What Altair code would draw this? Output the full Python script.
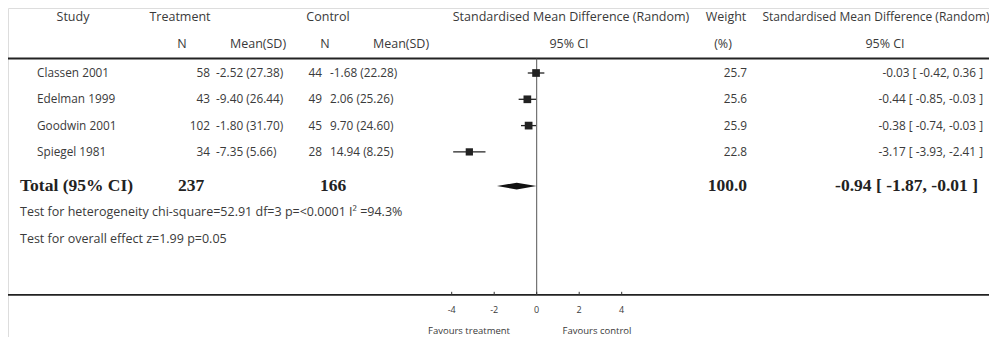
import altair as alt
import pandas as pd

# ---------------- data ----------------
studies = ["Classen 2001", "Edelman 1999", "Goodwin 2001", "Spiegel 1981"]
treat_n = [58, 43, 102, 34]
treat_mean_sd = ["-2.52 (27.38)", "-9.40 (26.44)", "-1.80 (31.70)", "-7.35 (5.66)"]
ctrl_n = [44, 49, 45, 28]
ctrl_mean_sd = ["-1.68 (22.28)", "2.06 (25.26)", "9.70 (24.60)", "14.94 (8.25)"]
weights = [25.7, 25.6, 25.9, 22.8]
smd = [-0.03, -0.44, -0.38, -3.17]
ci_low = [-0.42, -0.85, -0.74, -3.93]
ci_high = [0.36, -0.03, -0.03, -2.41]

total_treat_n = 237
total_ctrl_n = 166
total_weight = 100.0
total_smd = -0.94
total_low = -1.87
total_high = -0.01

heterogeneity = "Test for heterogeneity chi-square=52.91 df=3 p=<0.0001 I² =94.3%"
overall_effect = "Test for overall effect z=1.99    p=0.05"

axis_ticks = [-4, -2, 0, 2, 4]
favours_left = "Favours treatment"
favours_right = "Favours control"

# ---------------- layout ----------------
W, H = 981, 329
RULE_END = 981
FONT = "Open Sans"
SERIF = "Liberation Serif"
TXT = "#3a3a3a"
xscale = alt.Scale(domain=[-24.88, 21.285], nice=False, zero=False)
yscale = alt.Scale(domain=[-2.4715, 10.038], nice=False, zero=False, reverse=True)

ROW_H1, ROW_H2, ROW_TOP = -2.13, -1.10, -0.55
ROW_TOTAL, ROW_HET, ROW_OVERALL = 4.30, 5.285, 6.31
ROW_BOTTOM, ROW_TICKLAB, ROW_FAV = 8.44, 9.01, 9.82
DIAMOND_HALF = 0.13
TICK_LEN = 0.12

rows = list(range(len(studies)))
df = pd.DataFrame({
    "row": rows,
    "study": studies,
    "tn": [str(v) for v in treat_n],
    "tms": treat_mean_sd,
    "cn": [str(v) for v in ctrl_n],
    "cms": ctrl_mean_sd,
    "w": [f"{v:.1f}" for v in weights],
    "weight": weights,
    "smd": smd,
    "lo": ci_low,
    "hi": ci_high,
    "ci": [f"{m:.2f} [ {l:.2f}, {h:.2f} ]" for m, l, h in zip(smd, ci_low, ci_high)],
})

Y = alt.Y("row:Q", scale=yscale, axis=None)


def col_text(field, x, align, size=11.8):
    return alt.Chart(df).mark_text(
        align=align, baseline="middle", font=FONT, fontSize=size, color=TXT
    ).encode(x=alt.value(x), y=Y, text=f"{field}:N")


text_layers = [
    col_text("study", 29, "left"),
    col_text("tn", 202, "right"),
    col_text("tms", 208, "left"),
    col_text("cn", 314, "right"),
    col_text("cms", 322, "left"),
    col_text("w", 739, "right"),
    col_text("ci", 975, "right"),
]

headers = pd.DataFrame([
    {"t": "Study", "x": 65, "row": ROW_H1, "fs": 12.5},
    {"t": "Treatment", "x": 172, "row": ROW_H1, "fs": 12.5},
    {"t": "Control", "x": 320, "row": ROW_H1, "fs": 12.5},
    {"t": "Standardised Mean Difference (Random)", "x": 563, "row": ROW_H1, "fs": 12.5},
    {"t": "Weight", "x": 718, "row": ROW_H1, "fs": 12.5},
    {"t": "Standardised Mean Difference (Random)", "x": 868, "row": ROW_H1, "fs": 12},
    {"t": "N", "x": 174, "row": ROW_H2, "fs": 12.5},
    {"t": "Mean(SD)", "x": 250, "row": ROW_H2, "fs": 12.5},
    {"t": "N", "x": 317, "row": ROW_H2, "fs": 12.5},
    {"t": "Mean(SD)", "x": 393, "row": ROW_H2, "fs": 12.5},
    {"t": "95% CI", "x": 561, "row": ROW_H2, "fs": 12.5},
    {"t": "(%)", "x": 715, "row": ROW_H2, "fs": 12.5},
    {"t": "95% CI", "x": 877, "row": ROW_H2, "fs": 12.5},
])
header_layer = alt.Chart(headers).mark_text(
    align="center", baseline="middle", font=FONT, color=TXT
).encode(
    x=alt.X("x:Q", scale=None, axis=None), y=Y, text="t:N",
    size=alt.Size("fs:Q", scale=None, legend=None),
)

total_df = pd.DataFrame([
    {"t": "Total (95% CI)", "x": 12, "align": "left"},
    {"t": str(total_treat_n), "x": 170, "align": "left"},
    {"t": str(total_ctrl_n), "x": 312, "align": "left"},
    {"t": f"{total_weight:.1f}", "x": 739, "align": "right"},
    {"t": f"{total_smd:.2f} [ {total_low:.2f}, {total_high:.2f} ]", "x": 970, "align": "right"},
])
total_df["row"] = ROW_TOTAL
total_layers = [
    alt.Chart(total_df[total_df["align"] == a]).mark_text(
        align=a, baseline="middle", font=SERIF, fontSize=17.5, fontWeight="bold", color="#222"
    ).encode(x=alt.X("x:Q", scale=None, axis=None), y=Y, text="t:N")
    for a in ["left", "right"]
]

tests_df = pd.DataFrame({"t": [heterogeneity, overall_effect], "row": [ROW_HET, ROW_OVERALL]})
tests_layer = alt.Chart(tests_df).mark_text(
    align="left", baseline="middle", font=FONT, fontSize=12.5, color=TXT
).encode(x=alt.value(12), y=Y, text="t:N")

# horizontal rules
hrules = pd.DataFrame({"row": [ROW_TOP, ROW_BOTTOM], "sw": [2.0, 1.8]})
hrule_layer = alt.Chart(hrules).mark_rule(color="#222").encode(
    x=alt.value(0), x2=alt.value(RULE_END), y=Y,
    strokeWidth=alt.StrokeWidth("sw:Q", scale=None, legend=None),
)

# zero line
zero_df = pd.DataFrame({"x": [0.0], "top": [ROW_TOP], "bot": [ROW_BOTTOM]})
zero_layer = alt.Chart(zero_df).mark_rule(color="#555", strokeWidth=1).encode(
    x=alt.X("x:Q", scale=xscale, axis=None),
    y=alt.Y("top:Q", scale=yscale, axis=None), y2="bot:Q",
)

# CI whiskers and squares
ci_layer = alt.Chart(df).mark_rule(color="#222", strokeWidth=1.3).encode(
    x=alt.X("lo:Q", scale=xscale, axis=None), x2="hi:Q", y=Y,
)
sq_layer = alt.Chart(df).mark_square(color="#222", opacity=1).encode(
    x=alt.X("smd:Q", scale=xscale, axis=None), y=Y,
    size=alt.Size("weight:Q", scale=alt.Scale(domain=[0, 26], range=[0, 60]), legend=None),
)

# diamond
dia_df = pd.DataFrame({
    "x": [total_low, total_smd, total_high],
    "y1": [ROW_TOTAL, ROW_TOTAL - DIAMOND_HALF, ROW_TOTAL],
    "y2": [ROW_TOTAL, ROW_TOTAL + DIAMOND_HALF, ROW_TOTAL],
})
dia_layer = alt.Chart(dia_df).mark_area(color="#111", orient="vertical").encode(
    x=alt.X("x:Q", scale=xscale, axis=None),
    y=alt.Y("y1:Q", scale=yscale, axis=None), y2="y2:Q",
)

# axis ticks & labels
ticks_df = pd.DataFrame({
    "x": axis_ticks,
    "lab": [str(t) for t in axis_ticks],
    "b": [ROW_BOTTOM] * len(axis_ticks),
    "t": [ROW_BOTTOM - TICK_LEN] * len(axis_ticks),
    "lr": [ROW_TICKLAB] * len(axis_ticks),
})
tick_layer = alt.Chart(ticks_df).mark_rule(color="#333", strokeWidth=1).encode(
    x=alt.X("x:Q", scale=xscale, axis=None),
    y=alt.Y("b:Q", scale=yscale, axis=None), y2="t:Q",
)
ticklab_layer = alt.Chart(ticks_df).mark_text(
    align="center", baseline="middle", font=FONT, fontSize=9, color=TXT
).encode(
    x=alt.X("x:Q", scale=xscale, axis=None),
    y=alt.Y("lr:Q", scale=yscale, axis=None), text="lab:N",
)
fav_df = pd.DataFrame({"t": [favours_left, favours_right], "x": [461, 589], "row": [ROW_FAV, ROW_FAV]})
fav_layer = alt.Chart(fav_df).mark_text(
    align="center", baseline="middle", font=FONT, fontSize=9.5, color=TXT
).encode(x=alt.X("x:Q", scale=None, axis=None), y=Y, text="t:N")

chart = alt.layer(
    hrule_layer, zero_layer, ci_layer, sq_layer, dia_layer, tick_layer,
    header_layer, *text_layers, *total_layers, tests_layer, ticklab_layer, fav_layer,
).resolve_scale(x="independent").properties(
    width=W, height=H, padding=0, autosize=alt.AutoSizeParams(type="none")
).configure_view(stroke=None).configure(background="white")

chart.save("out.html", embed_options={"renderer": "svg", "actions": False})
